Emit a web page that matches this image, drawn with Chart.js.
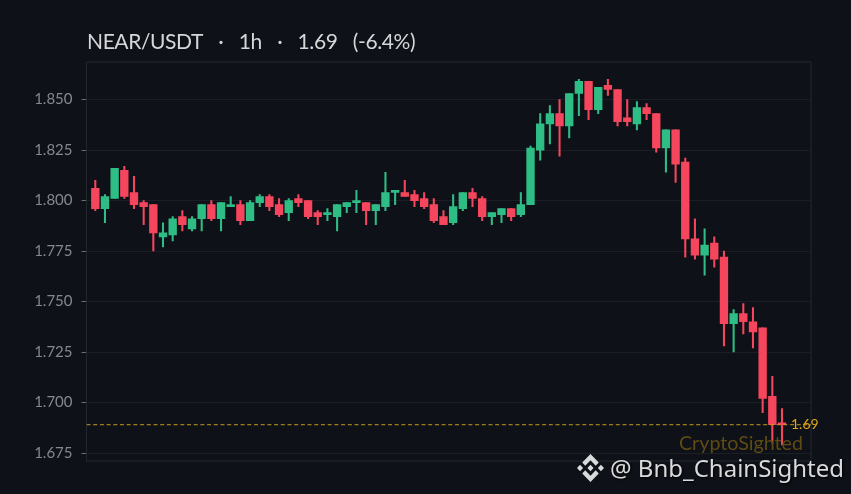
<!DOCTYPE html>
<html lang="en">
<head>
    <meta charset="UTF-8">
    <title>NEAR/USDT 1h</title>
    <style>
        html, body { margin: 0; padding: 0; background: #0e1117; overflow: hidden; }
        #wrap { position: relative; width: 851px; height: 494px; }
        #logo { position: absolute; left: 577px; top: 454px; width: 27px; height: 28px; }
        #handle { position: absolute; left: 610px; top: 451px; color: #d9dadb; font: 24px "Noto Sans", sans-serif; text-shadow: 1px 1px 2px #000; white-space: nowrap; }
    </style>
</head>
<body>
    <div id="wrap">
        <canvas id="grafica" width="851" height="494"></canvas>
        <svg id="logo" viewBox="0 0 24 24" preserveAspectRatio="none">
            <path fill="#d9dadb" d="M16.624 13.9202l2.7175 2.7154-7.353 7.353-7.353-7.352 2.7175-2.7164 4.6355 4.6595 4.6356-4.6595zm4.6366-4.6366L24 12l-2.7154 2.7164L18.5682 12l2.6924-2.7164zm-9.272.001l2.7163 2.6914-2.7164 2.7174v-.001L9.2721 12l2.7164-2.7154zm-9.2722-.001L5.4088 12l-2.6914 2.6924L0 12l2.7164-2.7164zM11.9885.0115l7.353 7.329-2.7174 2.7154-4.6356-4.6356-4.6355 4.6595-2.7174-2.7154 7.353-7.353z"/>
        </svg>
        <div id="handle">@ Bnb_ChainSighted</div>
    </div>

    <script src="https://cdn.jsdelivr.net/npm/chart.js"></script>
    <script>
        const titulo = 'NEAR/USDT  ·  1h  ·  1.69  (-6.4%)';
        const marca = 'CryptoSighted';
        const ultimoPrecio = 1.689;
        const etiquetaPrecio = '1.69';
        const yTicks = [1.850, 1.825, 1.800, 1.775, 1.750, 1.725, 1.700, 1.675];
        const xMin = -0.91;
        const xMax = 74;

        const opens = [
            1.806, 1.796, 1.801, 1.815, 1.804, 1.799, 1.798, 1.782, 1.783, 1.792, 1.786, 1.791,
            1.798, 1.791, 1.797, 1.798, 1.790, 1.799, 1.802, 1.798, 1.794, 1.801, 1.800, 1.794,
            1.793, 1.792, 1.797, 1.799, 1.799, 1.795, 1.797, 1.804, 1.804, 1.803, 1.801, 1.798,
            1.792, 1.789, 1.796, 1.804, 1.801, 1.792, 1.793, 1.796, 1.793, 1.798, 1.825, 1.838,
            1.843, 1.837, 1.853, 1.859, 1.845, 1.857, 1.855, 1.841, 1.838, 1.846, 1.843, 1.826,
            1.835, 1.819, 1.781, 1.773, 1.779, 1.772, 1.739, 1.744, 1.740, 1.737, 1.703, 1.690
        ];
        const highs = [
            1.810, 1.803, 1.816, 1.817, 1.812, 1.800, 1.798, 1.789, 1.792, 1.795, 1.792, 1.798,
            1.800, 1.799, 1.802, 1.800, 1.800, 1.803, 1.803, 1.801, 1.801, 1.803, 1.800, 1.795,
            1.796, 1.798, 1.799, 1.805, 1.799, 1.798, 1.814, 1.805, 1.810, 1.805, 1.804, 1.801,
            1.795, 1.803, 1.804, 1.806, 1.802, 1.794, 1.796, 1.796, 1.804, 1.827, 1.843, 1.847,
            1.850, 1.853, 1.860, 1.859, 1.856, 1.860, 1.855, 1.850, 1.849, 1.848, 1.843, 1.835,
            1.835, 1.821, 1.791, 1.786, 1.782, 1.775, 1.746, 1.749, 1.747, 1.737, 1.713, 1.697
        ];
        const lows = [
            1.795, 1.789, 1.801, 1.801, 1.796, 1.788, 1.775, 1.777, 1.780, 1.785, 1.785, 1.785,
            1.790, 1.785, 1.797, 1.788, 1.790, 1.797, 1.795, 1.792, 1.790, 1.797, 1.791, 1.788,
            1.790, 1.785, 1.794, 1.794, 1.788, 1.788, 1.795, 1.798, 1.802, 1.797, 1.796, 1.789,
            1.788, 1.788, 1.795, 1.797, 1.790, 1.788, 1.789, 1.790, 1.792, 1.798, 1.820, 1.828,
            1.822, 1.831, 1.842, 1.840, 1.843, 1.852, 1.837, 1.837, 1.835, 1.840, 1.824, 1.814,
            1.809, 1.772, 1.771, 1.763, 1.767, 1.728, 1.725, 1.734, 1.727, 1.695, 1.680, 1.679
        ];
        const closes = [
            1.796, 1.802, 1.816, 1.802, 1.798, 1.797, 1.784, 1.784, 1.791, 1.788, 1.791, 1.798,
            1.791, 1.799, 1.798, 1.790, 1.799, 1.802, 1.797, 1.793, 1.800, 1.799, 1.792, 1.792,
            1.794, 1.798, 1.799, 1.800, 1.795, 1.798, 1.804, 1.805, 1.802, 1.800, 1.797, 1.790,
            1.788, 1.797, 1.804, 1.801, 1.792, 1.794, 1.796, 1.792, 1.798, 1.826, 1.838, 1.843,
            1.837, 1.853, 1.859, 1.845, 1.856, 1.855, 1.839, 1.839, 1.846, 1.843, 1.826, 1.835,
            1.818, 1.781, 1.773, 1.778, 1.771, 1.739, 1.744, 1.740, 1.735, 1.702, 1.689, 1.689
        ];

        const verde = '#2ebd85';
        const rojo = '#f6465d';
        const colores = closes.map((c, i) => c >= opens[i] ? verde : rojo);

        // plugin para el marco, el titulo y los textos sobre la grafica
        const textos = {
            id: 'textos',
            beforeDatasetsDraw(chart) {
                const { ctx, chartArea: a } = chart;
                ctx.save();
                ctx.strokeStyle = '#24282e';
                ctx.lineWidth = 1;
                ctx.strokeRect(a.left, a.top, a.right - a.left, a.bottom - a.top);
                ctx.restore();
            },
            afterDraw(chart) {
                const { ctx, scales } = chart;
                ctx.save();
                ctx.textBaseline = 'alphabetic';
                ctx.textAlign = 'left';
                ctx.fillStyle = '#d6d7d8';
                ctx.font = '21px Lato';
                ctx.letterSpacing = '-0.4px';
                ctx.wordSpacing = '2.7px';
                ctx.fillText(titulo, 87, 49);
                ctx.letterSpacing = '0px';
                ctx.wordSpacing = '0px';
                ctx.fillStyle = '#e0a81c';
                ctx.font = '14px Lato';
                ctx.fillText(etiquetaPrecio, 791, scales.y.getPixelForValue(ultimoPrecio) + 4);
                ctx.fillStyle = '#5e4b14';
                ctx.font = '19.7px Lato';
                ctx.fillText(marca, 679, 450);
                ctx.restore();
            }
        };

        const ctx = document.getElementById('grafica').getContext('2d');
        new Chart(ctx, {
            type: 'bar',
            data: {
                datasets: [
                    {
                        label: 'precio',
                        type: 'line',
                        data: [{ x: xMin, y: ultimoPrecio }, { x: xMax, y: ultimoPrecio }],
                        borderColor: '#c49a22',
                        borderWidth: 1,
                        borderDash: [4, 2.7],
                        pointRadius: 0,
                        order: 0
                    },
                    {
                        label: 'cuerpo',
                        data: opens.map((o, i) => ({ x: i, y: [o, closes[i]] })),
                        backgroundColor: colores,
                        barThickness: 7.7,
                        grouped: false,
                        order: 1
                    },
                    {
                        label: 'mecha',
                        data: lows.map((l, i) => ({ x: i, y: [l, highs[i]] })),
                        backgroundColor: colores,
                        barThickness: 1.4,
                        grouped: false,
                        order: 2
                    }
                ]
            },
            options: {
                responsive: false,
                animation: false,
                layout: { padding: { top: 62, right: 40, bottom: 33, left: 0 } },
                plugins: { legend: { display: false }, tooltip: { enabled: false } },
                scales: {
                    x: {
                        type: 'linear',
                        offset: false,
                        min: xMin,
                        max: xMax,
                        grid: { display: false, offset: false },
                        border: { display: false },
                        ticks: { display: false },
                        afterFit(scale) { scale.height = 0; }
                    },
                    y: {
                        min: 1.67104,
                        max: 1.8686,
                        afterBuildTicks(scale) { scale.ticks = yTicks.map(v => ({ value: v })); },
                        afterFit(scale) { scale.width = 86.5; },
                        border: { display: false },
                        grid: { color: '#1b1f25', tickColor: '#6a6d72', tickLength: 5 },
                        ticks: {
                            color: '#85888d',
                            padding: 9,
                            font: { family: 'Lato', size: 15 },
                            callback: v => v.toFixed(3)
                        }
                    }
                }
            },
            plugins: [textos]
        });
    </script>
</body>
</html>
